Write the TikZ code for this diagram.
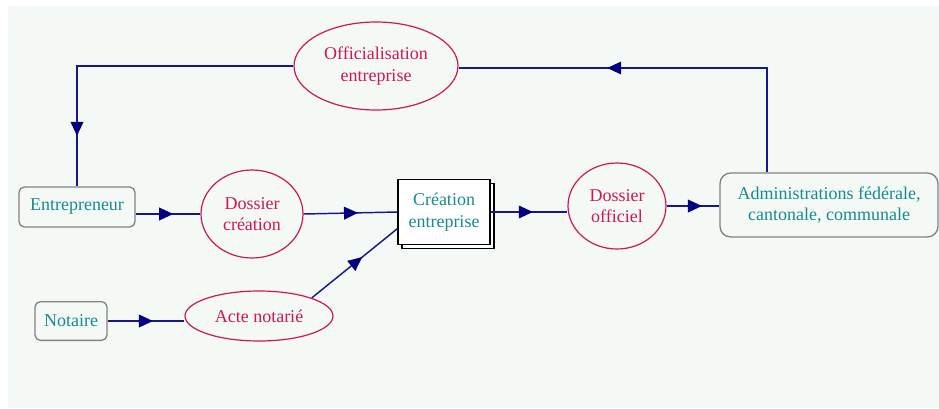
\documentclass[tikz,border=0pt]{standalone}
\usepackage{fontspec}
\setmainfont{Liberation Serif}
\usetikzlibrary{arrows.meta,decorations.markings,shadows,shapes.geometric,calc}

\definecolor{bgcol}{RGB}{245,249,246}
\definecolor{linecol}{RGB}{24,24,140}
\definecolor{tipcol}{RGB}{0,0,128}
\definecolor{redcol}{RGB}{205,25,75}
\definecolor{tealcol}{RGB}{20,140,140}
\definecolor{boxcol}{RGB}{130,130,130}

\begin{document}
\begin{tikzpicture}[x=0.75pt, y=-0.75pt,
    font=\fontsize{13.5}{16}\selectfont,
    actor/.style={draw=boxcol, line width=1pt, rounded corners=4pt, fill=bgcol,
        text=tealcol, align=center, inner sep=0pt},
    flux/.style={ellipse, draw=redcol, line width=0.9pt, fill=bgcol,
        text=redcol, align=center, inner sep=0pt},
    process/.style={draw=black, line width=0.9pt, fill=white, text=tealcol,
        align=center, inner sep=0pt,
        copy shadow={shadow xshift=3pt, shadow yshift=-3pt, draw=black, fill=white}},
    flow/.style={draw=linecol, line width=1.1pt, postaction={decorate},
        decoration={markings, mark=at position #1 with
            {\arrow[tipcol]{Triangle[length=10.5pt, width=9.5pt]}}}}]

    % Background
    \useasboundingbox (0,0) rectangle (939,408);
    \fill[bgcol] (8,6) rectangle (939,408);

    % Ellipses
    \node[flux, minimum width=123pt, minimum height=66pt] (off) at (376,66)
        {Officialisation\\entreprise};
    \node[flux, minimum width=76.5pt, minimum height=66pt] (dcre) at (252,214)
        {Dossier\\création};
    \node[flux, minimum width=73.5pt, minimum height=64.5pt] (doff) at (617,206)
        {Dossier\\officiel};
    \node[flux, minimum width=111pt, minimum height=37.5pt] (acte) at (259,316)
        {Acte notarié};

    % Boxes
    \node[actor, minimum width=87pt, minimum height=30pt] (entr) at (77,207)
        {Entrepreneur};
    \node[actor, minimum width=54pt, minimum height=29pt] (notaire) at (71,321)
        {Notaire};
    \node[actor, rounded corners=8pt, minimum width=163.5pt, minimum height=48pt]
        (admin) at (829,205) {Administrations fédérale,\\cantonale, communale};
    \node[process, minimum width=69pt, minimum height=49pt] (cre) at (444,212)
        {Création\\entreprise};

    % Connectors
    \coordinate (up) at (767,68);
    \draw[flow=0.64] (admin.north -| up) -- (up) -- (off.east |- up);
    \draw[flow=0.85] (off.west) -| (entr.north);
    \draw[flow=0.58] (entr.east |- dcre.west) -- (dcre.west);
    \draw[flow=0.58] (dcre.east) -- (cre.west);
    \draw[flow=0.59] (notaire.east) -- (acte.west |- notaire.east);
    \draw[flow=0.59] (acte.north east) -- ($(cre.west)!0.5!(cre.south west)$);
    \draw[flow=0.55] (cre.east) -- (doff.west |- cre.east);
    \draw[flow=0.67] (doff.east) -- (admin.west |- doff.east);

\end{tikzpicture}
\end{document}
